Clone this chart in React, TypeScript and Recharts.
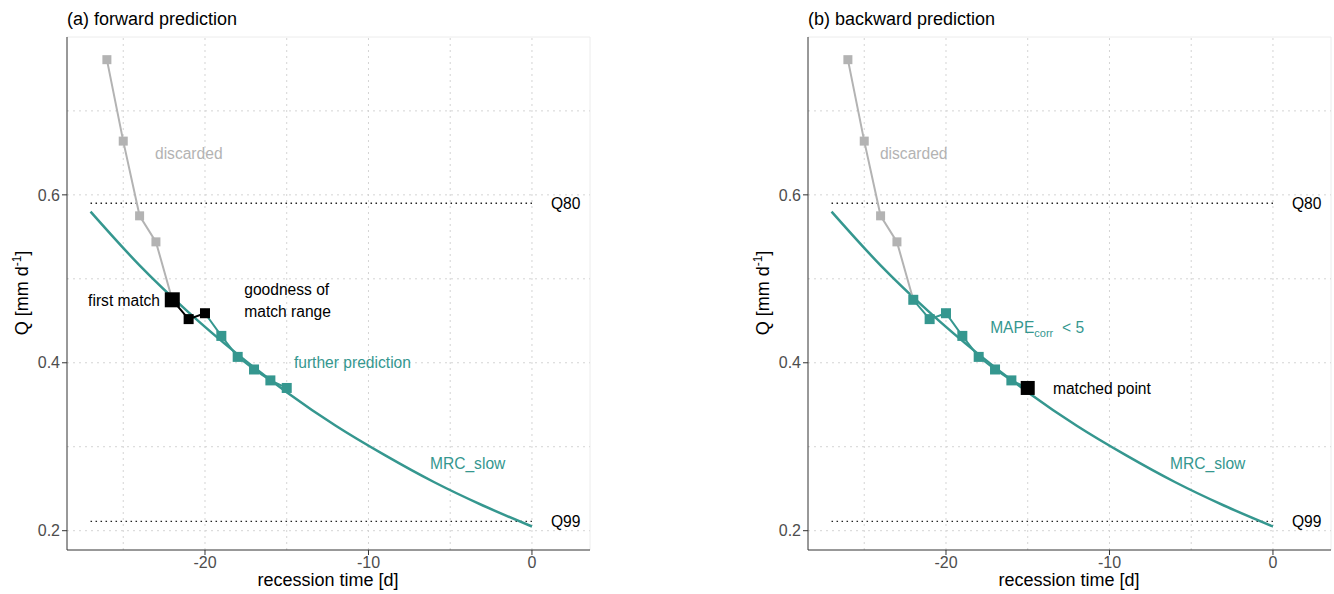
import React from "react";
import { ComposedChart, XAxis, YAxis, Line, Scatter, ReferenceLine } from "recharts";

const TEAL = "#35978f";
const GREY = "#b3b3b3";
const FONT = "'Liberation Sans', Arial, Helvetica, sans-serif";

const xTicks = [-20, -10, 0];
const yTicks = [0.2, 0.4, 0.6];
const xGrid = [-25, -20, -15, -10, -5, 0];
const yGrid = [0.2, 0.3, 0.4, 0.5, 0.6, 0.7];
const xDomain: [number, number] = [-28.44, 3.55];
const yDomain: [number, number] = [0.177, 0.788];

// recession curve MRC_slow
const curveT = [-27, -24, -21, -18, -15, -12, -9, -6, -3, 0];
const curveQ = [0.58, 0.516, 0.46, 0.41, 0.365, 0.325, 0.29, 0.258, 0.23, 0.205];

// observed recession points
const discardT = [-26, -25, -24, -23, -22];
const discardQ = [0.761, 0.664, 0.575, 0.544, 0.475];
const fwdMatchT = [-22, -21, -20];
const fwdMatchQ = [0.475, 0.452, 0.459];
const fwdPredT = [-20, -19, -18, -17, -16, -15];
const fwdPredQ = [0.459, 0.432, 0.407, 0.392, 0.379, 0.37];
const bwdTealT = [-22, -21, -20, -19, -18, -17, -16, -15];
const bwdTealQ = [0.475, 0.452, 0.459, 0.432, 0.407, 0.392, 0.379, 0.37];

const q80 = 0.59;
const q99 = 0.211;
const thresholdT = [-27, 0];

type Pt = { t: number; q: number };
const zip = (t: number[], q: number[]): Pt[] => t.map((v, i) => ({ t: v, q: q[i] }));

type Ann = { t: number; q: number; text: string; color: string; anchor?: string; sub?: string; rest?: string };

const fwdLabels: Ann[] = [
  { t: -23.06, q: 0.649, text: "discarded", color: GREY },
  { t: -22.75, q: 0.474, text: "first match", color: "#000", anchor: "end" },
  { t: -17.6, q: 0.487, text: "goodness of", color: "#000" },
  { t: -17.6, q: 0.461, text: "match range", color: "#000" },
  { t: -14.56, q: 0.4, text: "further prediction", color: TEAL },
  { t: -6.24, q: 0.28, text: "MRC_slow", color: TEAL },
  { t: 1.16, q: q80, text: "Q80", color: "#000" },
  { t: 1.16, q: q99, text: "Q99", color: "#000" },
];

const bwdLabels: Ann[] = [
  { t: -24.04, q: 0.649, text: "discarded", color: GREY },
  { t: -17.3, q: 0.442, text: "MAPE", sub: "corr", rest: "< 5", color: TEAL },
  { t: -13.46, q: 0.369, text: "matched point", color: "#000" },
  { t: -6.3, q: 0.28, text: "MRC_slow", color: TEAL },
  { t: 1.16, q: q80, text: "Q80", color: "#000" },
  { t: 1.16, q: q99, text: "Q99", color: "#000" },
];

const square = (size: number, color: string) => (p: any) => {
  if (p.cx == null || p.cy == null) return <g />;
  return <rect x={p.cx - size / 2} y={p.cy - size / 2} width={size} height={size} fill={color} />;
};

const annShape = (p: any) => {
  const a: Ann = p.payload;
  if (p.cx == null) return <g />;
  return (
    <text x={p.cx} y={p.cy} dy="0.35em" fontSize={15.6} fill={a.color} textAnchor={a.anchor || "start"} style={{ fontFamily: FONT }}>
      <tspan>{a.text}</tspan>
      {a.sub && (
        <tspan fontSize={11} dy={4}>
          {a.sub}
        </tspan>
      )}
      {a.rest && <tspan dy={-4}>{"\u00a0\u00a0" + a.rest}</tspan>}
    </text>
  );
};

type Series = { data: Pt[]; color: string; width: number };
type Markers = { data: Pt[]; color: string; size: number };

interface PanelProps {
  title: string;
  left: number;
  lines: Series[];
  markers: Markers[];
  labels: Ann[];
}

function Panel({ title, left, lines, markers, labels }: PanelProps) {
  return (
    <div style={{ position: "absolute", left, top: 0, width: 593, height: 594 }}>
      <div style={{ position: "absolute", left: 67, top: 19, transform: "translateY(-50%)", fontSize: 18, color: "#000", whiteSpace: "nowrap" }}>
        {title}
      </div>
      <div
        style={{
          position: "absolute",
          left: 21,
          top: 293,
          transform: "translate(-50%, -50%) rotate(-90deg)",
          fontSize: 18,
          whiteSpace: "nowrap",
        }}
      >
        Q [mm d<sup style={{ fontSize: 12 }}>-1</sup>]
      </div>
      <div
        style={{
          position: "absolute",
          left: 328,
          top: 580,
          transform: "translate(-50%, -50%)",
          fontSize: 18,
          whiteSpace: "nowrap",
        }}
      >
        recession time [d]
      </div>
      <ComposedChart width={593} height={594} margin={{ top: 37, right: 3, bottom: 14, left: 27 }}>
        <XAxis
          type="number"
          dataKey="t"
          domain={xDomain}
          ticks={xTicks}
          allowDataOverflow
          height={30}
          tick={{ fill: "#4d4d4d", fontSize: 16 }}
          tickLine={{ stroke: "#333" }}
          axisLine={{ stroke: "#333" }}
          tickSize={5}
          tickMargin={2}
        />
        <YAxis
          type="number"
          dataKey="q"
          domain={yDomain}
          ticks={yTicks}
          allowDataOverflow
          width={40}
          tick={{ fill: "#4d4d4d", fontSize: 16 }}
          tickLine={{ stroke: "#333" }}
          axisLine={{ stroke: "#333" }}
          tickSize={5}
          tickMargin={2}
          tickFormatter={(v: number) => v.toFixed(1)}
        />
        <ReferenceLine y={yDomain[1]} stroke="#ececec" />
        <ReferenceLine x={xDomain[1]} stroke="#ececec" />
        {xGrid.map((v) => (
          <ReferenceLine key={"x" + v} x={v} stroke="#d4d4d4" strokeDasharray="2 4" />
        ))}
        {yGrid.map((v) => (
          <ReferenceLine key={"y" + v} y={v} stroke="#d4d4d4" strokeDasharray="2 4" />
        ))}
        <Line
          data={zip(thresholdT, [q80, q80])}
          dataKey="q"
          stroke="#222"
          strokeWidth={1.3}
          strokeDasharray="1.5 3.5"
          dot={false}
          activeDot={false}
          isAnimationActive={false}
        />
        <Line
          data={zip(thresholdT, [q99, q99])}
          dataKey="q"
          stroke="#222"
          strokeWidth={1.3}
          strokeDasharray="1.5 3.5"
          dot={false}
          activeDot={false}
          isAnimationActive={false}
        />
        <Line
          data={zip(curveT, curveQ)}
          dataKey="q"
          type="monotone"
          stroke={TEAL}
          strokeWidth={2.5}
          dot={false}
          activeDot={false}
          isAnimationActive={false}
        />
        {lines.map((s, i) => (
          <Line
            key={"l" + i}
            data={s.data}
            dataKey="q"
            stroke={s.color}
            strokeWidth={s.width}
            dot={false}
            activeDot={false}
            isAnimationActive={false}
          />
        ))}
        {markers.map((m, i) => (
          <Scatter key={"m" + i} data={m.data} dataKey="q" shape={square(m.size, m.color)} isAnimationActive={false} />
        ))}
        <Scatter data={labels} dataKey="q" shape={annShape} isAnimationActive={false} />
      </ComposedChart>
    </div>
  );
}

export default function App() {
  return (
    <div style={{ position: "relative", width: 1334, height: 594, background: "#fff", fontFamily: FONT, overflow: "hidden" }}>
      <style>{`body{margin:0}`}</style>
      <Panel
        title="(a) forward prediction"
        left={0}
        lines={[
          { data: zip(discardT, discardQ), color: GREY, width: 2 },
          { data: zip(fwdMatchT, fwdMatchQ), color: "#000", width: 2 },
          { data: zip(fwdPredT, fwdPredQ), color: TEAL, width: 2 },
        ]}
        markers={[
          { data: zip(discardT.slice(0, 4), discardQ.slice(0, 4)), color: GREY, size: 9 },
          { data: zip(fwdPredT.slice(1), fwdPredQ.slice(1)), color: TEAL, size: 10 },
          { data: zip(fwdMatchT.slice(1), fwdMatchQ.slice(1)), color: "#000", size: 10 },
          { data: zip(fwdMatchT.slice(0, 1), fwdMatchQ.slice(0, 1)), color: "#000", size: 15 },
        ]}
        labels={fwdLabels}
      />
      <Panel
        title="(b) backward prediction"
        left={741}
        lines={[
          { data: zip(discardT, discardQ), color: GREY, width: 2 },
          { data: zip(bwdTealT, bwdTealQ), color: TEAL, width: 2 },
        ]}
        markers={[
          { data: zip(discardT.slice(0, 4), discardQ.slice(0, 4)), color: GREY, size: 9 },
          { data: zip(bwdTealT.slice(0, 7), bwdTealQ.slice(0, 7)), color: TEAL, size: 10 },
          { data: zip(bwdTealT.slice(7), bwdTealQ.slice(7)), color: "#000", size: 14 },
        ]}
        labels={bwdLabels}
      />
    </div>
  );
}
